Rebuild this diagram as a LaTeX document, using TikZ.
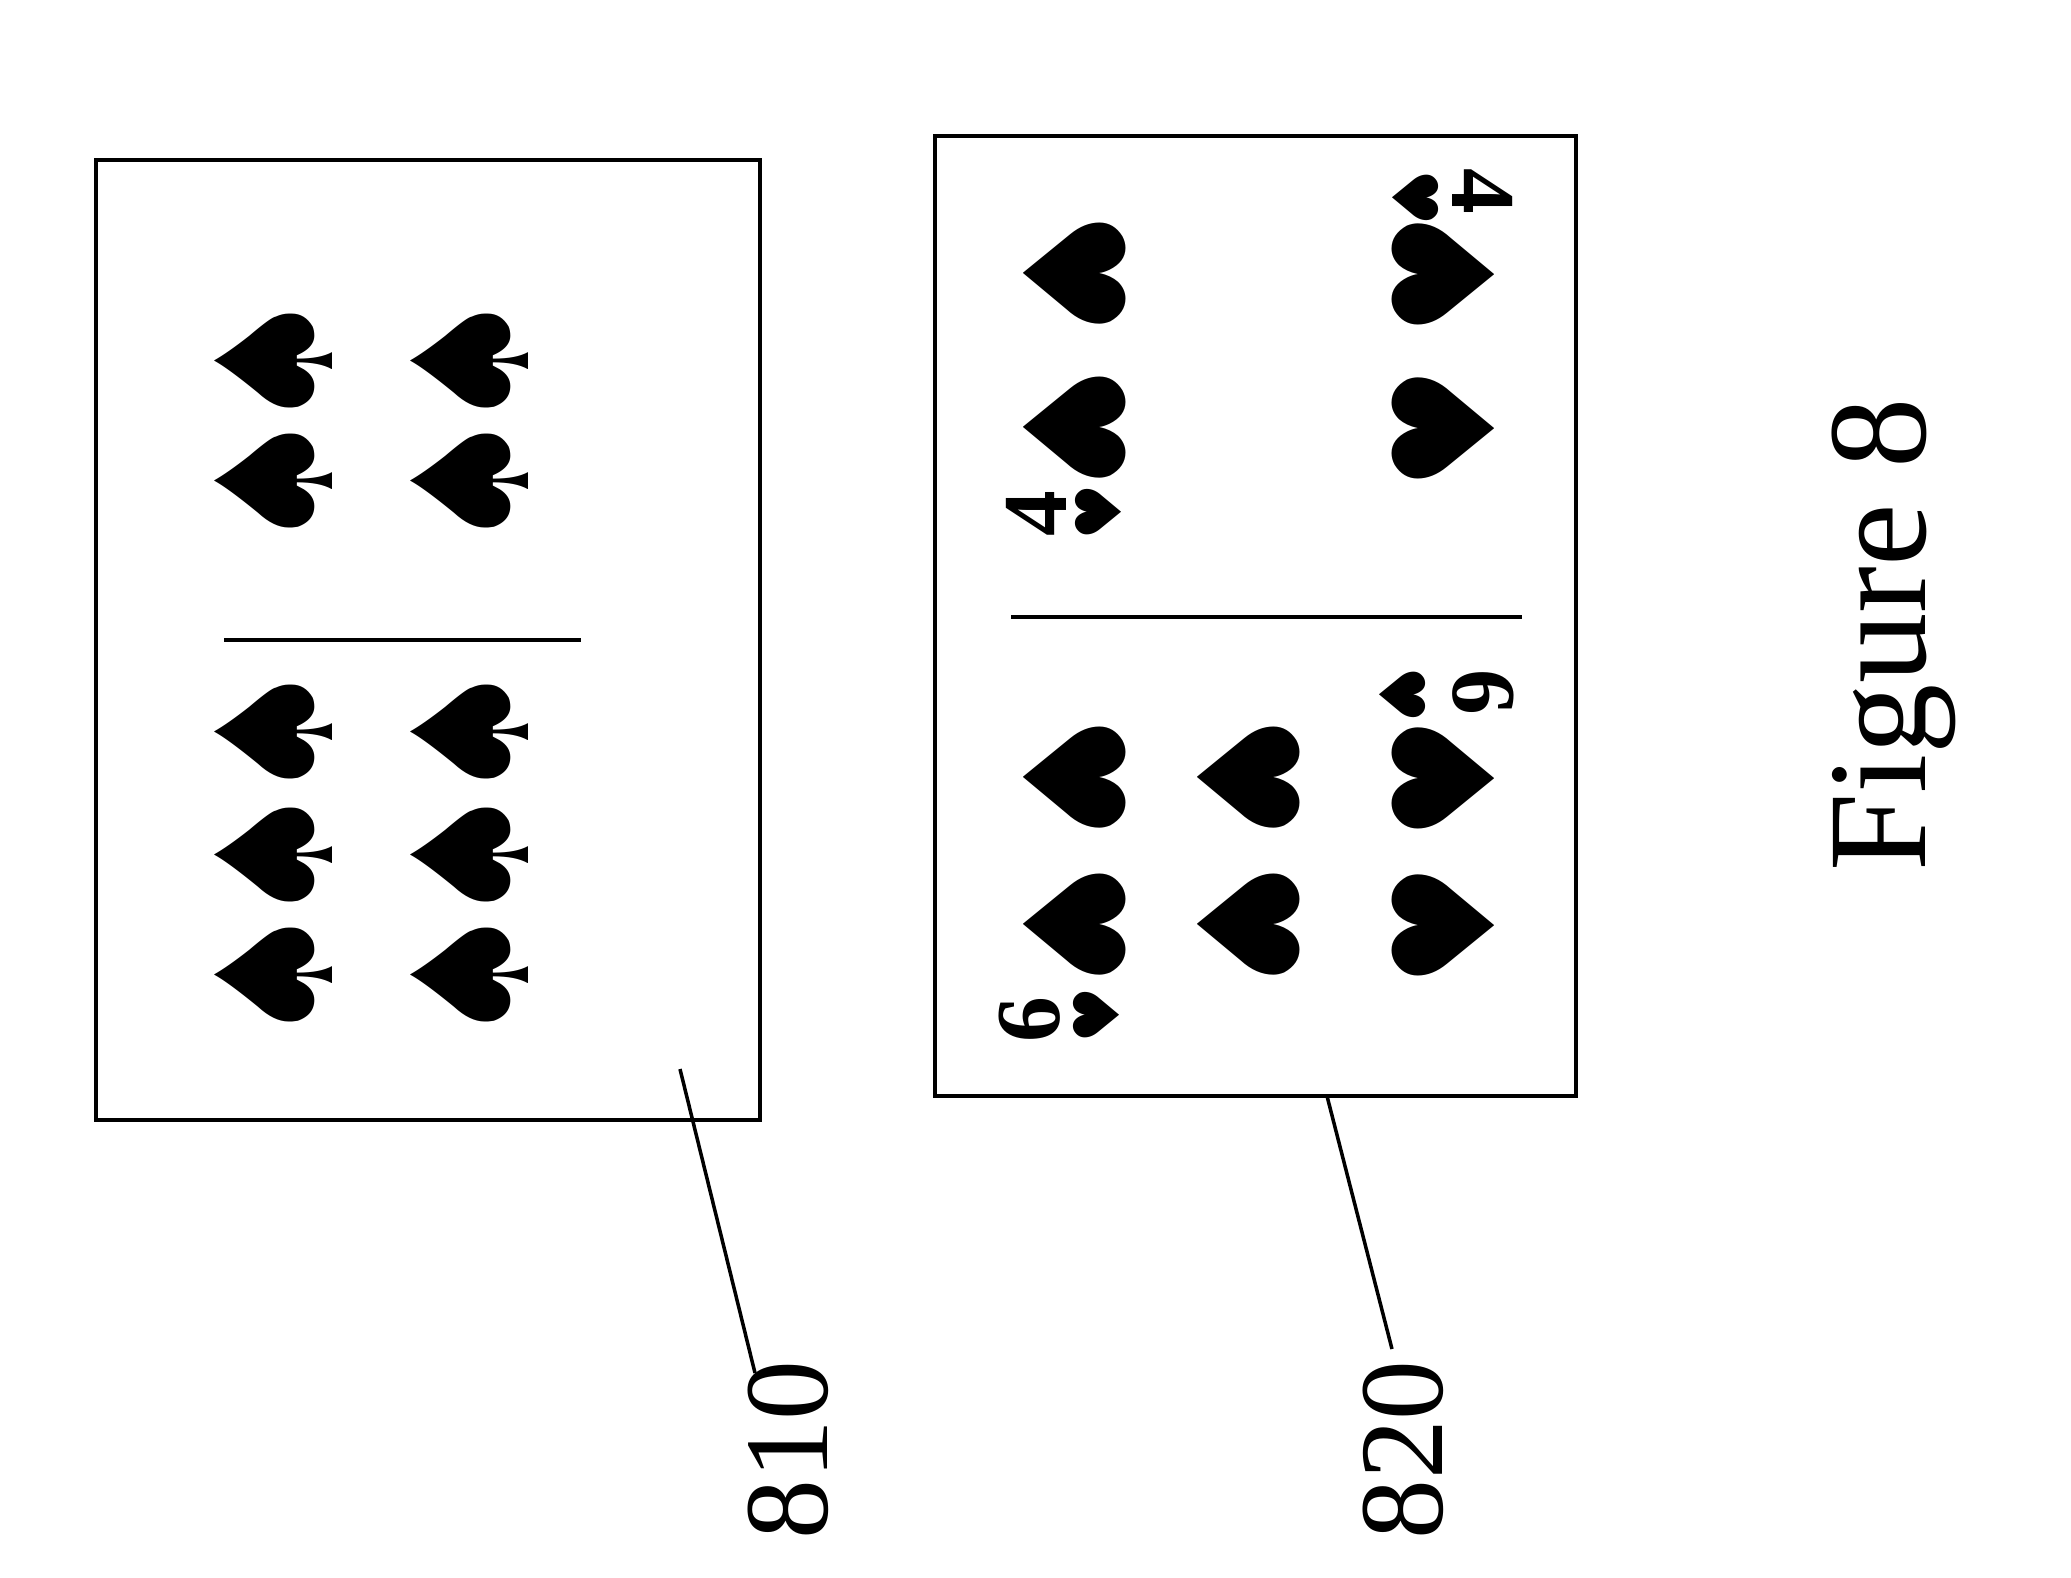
\documentclass[tikz,border=0pt]{standalone}
\usepackage{fontspec}
\setmainfont{Liberation Serif}
\newfontfamily\suitfont{DejaVu Sans}
\tikzset{
  spadepip/.style={font=\suitfont\fontsize{46}{46}\selectfont, rotate=90, inner sep=0pt},
  heartpip/.style={font=\suitfont\fontsize{40}{40}\selectfont, inner sep=0pt},
  idx/.style={font=\bfseries\fontsize{26}{26}\selectfont, inner sep=0pt},
  smallpip/.style={font=\suitfont\fontsize{18}{18}\selectfont, inner sep=0pt},
  reflabel/.style={font=\fontsize{34}{34}\selectfont, rotate=90, inner sep=2pt}
}
\begin{document}
\begin{tikzpicture}[x=0.01cm, y=-0.01cm, line width=1.3pt]
\useasboundingbox (0,0) rectangle (2071,1578);
% Card 810
    \draw (96,160) rectangle (760,1120);
    \draw (224,640) -- (581,640);
    \foreach \y in {361,481,732,855,975}
        \foreach \x in {274,470}
            \node[spadepip] at (\x,\y) {♠};
% Card 820
    \draw (935,136) rectangle (1576,1096);
    \draw (1011,617) -- (1522,617);
    \foreach \y in {274,428}{
        \node[heartpip, rotate=-90] at (1075,\y) {♥};
        \node[heartpip, rotate=90] at (1443,\y) {♥};
    }
    \foreach \y in {778,925}{
        \node[heartpip, rotate=-90] at (1075,\y) {♥};
        \node[heartpip, rotate=-90] at (1249,\y) {♥};
        \node[heartpip, rotate=90] at (1443,\y) {♥};
    }
% Indices
    \node[idx, rotate=90] at (1036,514) {4};
    \node[smallpip, rotate=90] at (1098,512) {♥};
    \node[idx, rotate=-90] at (1483,191) {4};
    \node[smallpip, rotate=-90] at (1416,198) {♥};
    \node[idx, rotate=90] at (1030,1020) {6};
    \node[smallpip, rotate=90] at (1096,1015) {♥};
    \node[idx, rotate=-90] at (1483,692) {6};
    \node[smallpip, rotate=-90] at (1403,695) {♥};
% Leaders
    \coordinate (a1) at (680,1069);
    \coordinate (a2) at (755,1373);
    \coordinate (b1) at (1327,1096);
    \coordinate (b2) at (1392,1349);
    \draw[line width=1pt] (a1) -- (a2);
    \draw[line width=1pt] (b1) -- (b2);
    \node[reflabel] (l810) at (788,1450) {810};
    \node[reflabel] (l820) at (1403,1450) {820};
    \node[reflabel, font=\fontsize{40}{40}\selectfont] (fig) at (1894,635) {Figure 8};
\end{tikzpicture}
\end{document}
